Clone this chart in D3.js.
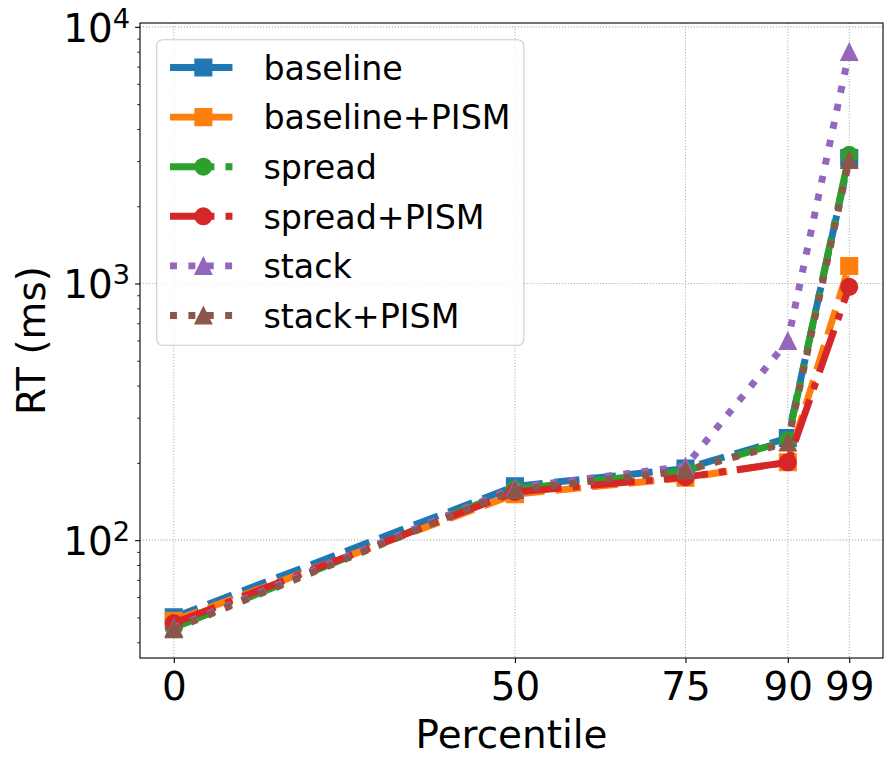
<!DOCTYPE html>
<html><head><meta charset="utf-8">
<script src="https://cdn.jsdelivr.net/npm/d3@7"></script>
<style>body{margin:0;background:#fff} svg{display:block}</style>
</head><body>
<svg id="chart" width="895" height="768"></svg>
<script>
// ---- data ----
const percentiles = [0, 50, 75, 90, 99];
const seriesNames = ["baseline", "baseline+PISM", "spread", "spread+PISM", "stack", "stack+PISM"];
const baseline     = [50,   162, 190, 250, 3080];
const baselinePISM = [48.5, 151, 175, 201, 1170];
const spread       = [45.5, 158, 186, 245, 3170];
const spreadPISM   = [47.5, 154, 176, 201, 970];
const stack        = [45.5, 160, 194, 597, 7990];
const stackPISM    = [45,   157, 187, 240, 3030];
const xTickValues = [0, 50, 75, 90, 99];
const yTickExponents = [2, 3, 4];
const xLabel = "Percentile";
const yLabel = "RT (ms)";

// ---- styles ----
const colors = ["#1f77b4", "#ff7f0e", "#2ca02c", "#d62728", "#9467bd", "#8c564b"];
const markers = ["square", "square", "circle", "circle", "triangle", "triangle"];
const LW = 6.94;
const dashes = {
  dashed: [3.7 * LW, 1.6 * LW],
  dashdot: [6.4 * LW, 1.6 * LW, 1 * LW, 1.6 * LW],
  dotted: [1 * LW, 1.65 * LW]
};
const lineStyles = ["dashed", "dashed", "dashdot", "dashdot", "dotted", "dotted"];
const MS = 16.67;

const allSeries = [baseline, baselinePISM, spread, spreadPISM, stack, stackPISM];

const svg = d3.select("#chart");
const L = 140, R = 883, T = 23, B = 658;

// x scale with 5% margins
const xmin = d3.min(percentiles), xmax = d3.max(percentiles);
const xm = (xmax - xmin) * 0.05;
const x = d3.scaleLinear().domain([xmin - xm, xmax + xm]).range([L, R]);

// y log scale with 5% margins in log space
const allVals = allSeries.flat();
const lmin = Math.log10(d3.min(allVals)), lmax = Math.log10(d3.max(allVals));
const lm = (lmax - lmin) * 0.05;
const y = d3.scaleLog().domain([10 ** (lmin - lm), 10 ** (lmax + lm)]).range([B, T]);

const FONT = "DejaVu Sans, sans-serif";
const tickFs = 38.9, legendFs = 33.3, labelFs = 38.9;

// grid
const grid = svg.append("g");
xTickValues.forEach(v => {
  grid.append("line").attr("x1", x(v)).attr("x2", x(v)).attr("y1", T).attr("y2", B)
    .attr("stroke", "#b0b0b0").attr("stroke-width", 1.1).attr("stroke-dasharray", "1.1,1.83");
});
yTickExponents.forEach(e => {
  const v = 10 ** e;
  grid.append("line").attr("x1", L).attr("x2", R).attr("y1", y(v)).attr("y2", y(v))
    .attr("stroke", "#b0b0b0").attr("stroke-width", 1.1).attr("stroke-dasharray", "1.1,1.83");
});

// clip
svg.append("defs").append("clipPath").attr("id", "clip")
  .append("rect").attr("x", L).attr("y", T).attr("width", R - L).attr("height", B - T);

function markerPath(type, s) {
  const h = s / 2;
  if (type === "square") return `M${-h},${-h}H${h}V${h}H${-h}Z`;
  if (type === "circle") return d3.symbol(d3.symbolCircle, Math.PI * h * h)();
  return `M0,${-h}L${-h},${h}L${h},${h}Z`;
}

const line = d3.line().x((d, i) => x(percentiles[i])).y(d => y(d));
const plot = svg.append("g").attr("clip-path", "url(#clip)");
allSeries.forEach((vals, si) => {
  const g = plot.append("g");
  g.append("path").datum(vals).attr("d", line)
    .attr("fill", "none").attr("stroke", colors[si]).attr("stroke-width", LW)
    .attr("stroke-dasharray", dashes[lineStyles[si]].join(","))
    .attr("stroke-linecap", "butt").attr("stroke-linejoin", "round");
  g.selectAll(".m").data(vals).enter().append("path")
    .attr("transform", (d, i) => `translate(${x(percentiles[i])},${y(d)})`)
    .attr("d", markerPath(markers[si], MS))
    .attr("fill", colors[si]).attr("stroke", colors[si]).attr("stroke-width", 1.39);
});

// axes
const xAxis = svg.append("g").attr("transform", `translate(0,${B})`)
  .call(d3.axisBottom(x).tickValues(xTickValues).tickSize(4.9).tickPadding(4.9).tickFormat(d3.format("d")));
xAxis.select(".domain").remove();
xAxis.selectAll("line").attr("stroke", "#000").attr("stroke-width", 1.1);
xAxis.selectAll("text").attr("font-family", FONT).attr("font-size", tickFs).attr("fill", "#000")
  .attr("dy", null).attr("y", 42);

// y minor ticks
const minorVals = y.ticks().filter(v => {
  const l = Math.log10(v); return Math.abs(l - Math.round(l)) > 1e-9;
});
const yMinor = svg.append("g").attr("transform", `translate(${L},0)`)
  .call(d3.axisLeft(y).tickValues(minorVals).tickSize(2.8).tickFormat(""));
yMinor.select(".domain").remove();
yMinor.selectAll("line").attr("stroke", "#000").attr("stroke-width", 0.83);

const yMajor = svg.append("g").attr("transform", `translate(${L},0)`)
  .call(d3.axisLeft(y).tickValues(yTickExponents.map(e => 10 ** e)).tickSize(4.9).tickFormat(""));
yMajor.select(".domain").remove();
yMajor.selectAll("line").attr("stroke", "#000").attr("stroke-width", 1.1);
yMajor.selectAll(".tick").each(function(d) {
  const e = Math.round(Math.log10(d));
  const t = d3.select(this).append("text").attr("x", -10).attr("y", 14.5)
    .attr("text-anchor", "end").attr("font-family", FONT).attr("fill", "#000");
  t.append("tspan").attr("font-size", tickFs).text("10");
  t.append("tspan").attr("font-size", tickFs * 0.7).attr("dy", -14).text(String(e));
});

// spines
svg.append("rect").attr("x", L).attr("y", T).attr("width", R - L).attr("height", B - T)
  .attr("fill", "none").attr("stroke", "#000").attr("stroke-width", 1.1);

// axis labels
svg.append("text").attr("x", (L + R) / 2).attr("y", 748).attr("text-anchor", "middle")
  .attr("font-family", FONT).attr("font-size", labelFs).attr("fill", "#000").text(xLabel);
svg.append("text").attr("transform", `translate(45,${(T + B) / 2}) rotate(-90)`)
  .attr("text-anchor", "middle").attr("font-family", FONT).attr("font-size", labelFs)
  .attr("fill", "#000").text(yLabel);

// legend
const lgX = 156.7, lgY = 39.7, pad = 13.3, handleLen = 66.7, textPad = 26.7, rowH = 49.6, firstRow = 67.5;
const lg = svg.append("g");
const box = lg.append("rect");
let maxRight = 0;
seriesNames.forEach((name, i) => {
  const cy = firstRow + i * rowH;
  const x0 = lgX + pad, x1 = x0 + handleLen;
  lg.append("line").attr("x1", x0).attr("x2", x1).attr("y1", cy).attr("y2", cy)
    .attr("stroke", colors[i]).attr("stroke-width", LW)
    .attr("stroke-dasharray", dashes[lineStyles[i]].join(",")).attr("stroke-linecap", "butt");
  lg.append("path").attr("transform", `translate(${(x0 + x1) / 2},${cy})`)
    .attr("d", markerPath(markers[i], MS)).attr("fill", colors[i])
    .attr("stroke", colors[i]).attr("stroke-width", 1.39);
  const t = lg.append("text").attr("x", x1 + textPad).attr("y", cy + 12.3)
    .attr("font-family", FONT).attr("font-size", legendFs).attr("fill", "#000").text(name);
  const bb = t.node().getBBox();
  maxRight = Math.max(maxRight, bb.x + bb.width);
});
const lgH = firstRow + 5 * rowH + 16.5 + pad - lgY;
box.attr("x", lgX).attr("y", lgY).attr("width", maxRight + pad - lgX).attr("height", lgH)
  .attr("rx", 6).attr("ry", 6).attr("fill", "#fff").attr("fill-opacity", 0.8)
  .attr("stroke", "#cccccc").attr("stroke-width", 1.1);
</script>
</body></html>
